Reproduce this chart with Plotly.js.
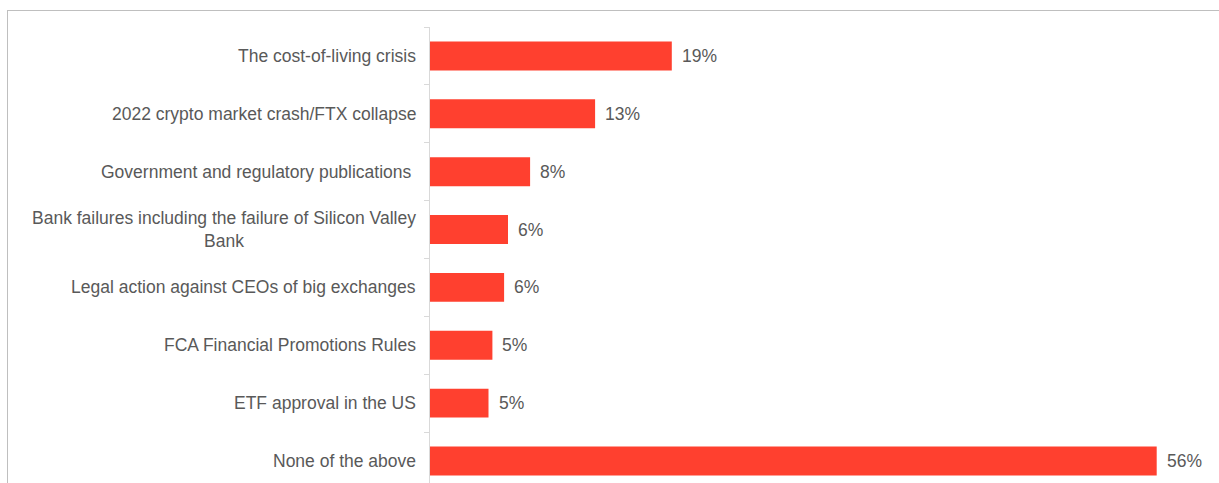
<!DOCTYPE html>
<html>
<head>
<meta charset="utf-8">
<script src="https://cdn.plot.ly/plotly-3.0.1.min.js"></script>
<style>
  html, body { margin: 0; padding: 0; background: #ffffff; }
  #wrap { position: relative; width: 1219px; height: 483px; overflow: hidden; }
  #chart { position: absolute; left: 0; top: 0; width: 1219px; height: 483px; }
  #frame { position: absolute; left: 7px; top: 10px; width: 1300px; height: 600px;
           border-left: 1px solid #bfbfbf; border-top: 1px solid #bfbfbf; pointer-events: none; }
</style>
</head>
<body>
<div id="wrap">
  <div id="chart"></div>
  <div id="frame"></div>
</div>
<script>
// Data
const categories = [
  "The cost-of-living crisis",
  "2022 crypto market crash/FTX collapse",
  "Government and regulatory publications\u00a0",
  "Bank failures including the failure of Silicon Valley<br>Bank",
  "Legal action against CEOs of big exchanges",
  "FCA Financial Promotions Rules",
  "ETF approval in the US",
  "None of the above"
];
const values = [18.6, 12.7, 7.7, 6.0, 5.7, 4.8, 4.5, 55.9];
const valueLabels = ["19%", "13%", "8%", "6%", "6%", "5%", "5%", "56%"];

const textColor = "#595959";
const fontFamily = "Liberation Sans, Arial, sans-serif";
const fontSize = 17.5;

const trace = {
  type: "bar",
  orientation: "h",
  x: values,
  y: categories,
  width: 0.5,
  marker: { color: "#ff402f", line: { width: 0 } },
  hoverinfo: "skip"
};

const annotations = [];
categories.forEach((c, i) => {
  // category labels (centered multi-line like the original)
  annotations.push({
    x: 0, y: c, xref: "x", yref: "y",
    text: c, showarrow: false,
    xanchor: "right", yanchor: "middle", align: "center",
    xshift: -12,
    font: { family: fontFamily, size: fontSize, color: textColor }
  });
  // value labels
  annotations.push({
    x: values[i], y: c, xref: "x", yref: "y",
    text: valueLabels[i], showarrow: false,
    xanchor: "left", yanchor: "middle",
    xshift: 8,
    font: { family: fontFamily, size: fontSize, color: textColor }
  });
});

const layout = {
  width: 1219,
  height: 483,
  margin: { l: 430, r: 9, t: 27, b: 0, pad: 0 },
  paper_bgcolor: "rgba(0,0,0,0)",
  plot_bgcolor: "rgba(0,0,0,0)",
  showlegend: false,
  bargap: 0.5,
  xaxis: {
    range: [0, 60],
    visible: false,
    showgrid: false,
    zeroline: false,
    fixedrange: true
  },
  yaxis: {
    type: "category",
    range: [7.38, -0.5],
    showline: true,
    linecolor: "#d9d9d9",
    linewidth: 1,
    ticks: "outside",
    tickson: "boundaries",
    ticklen: 5,
    tickcolor: "#d9d9d9",
    tickwidth: 1,
    showticklabels: false,
    showgrid: false,
    zeroline: false,
    fixedrange: true
  },
  annotations: annotations,
  font: { family: fontFamily, size: fontSize, color: textColor }
};

Plotly.newPlot("chart", [trace], layout, { displayModeBar: false, staticPlot: true });
</script>
</body>
</html>
